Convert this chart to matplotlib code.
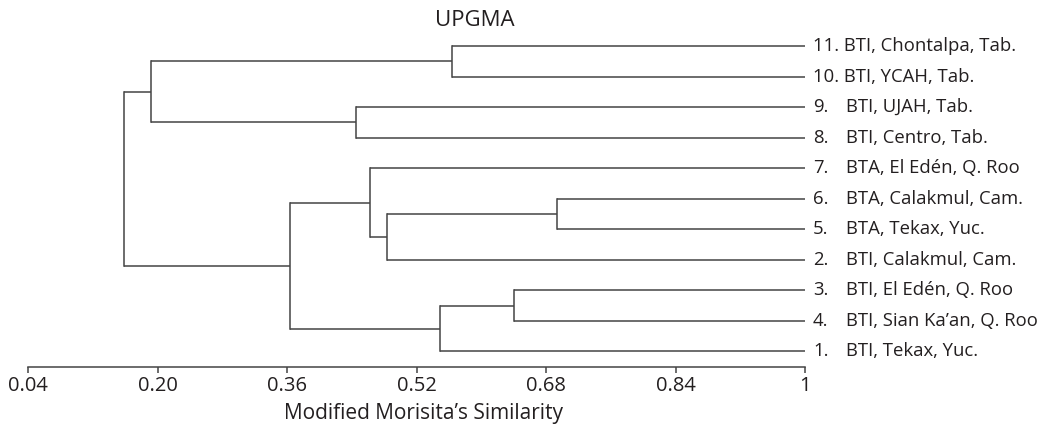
# UPGMA dendrogram, modified Morisita similarity

import matplotlib
matplotlib.use('Agg')
import matplotlib.pyplot as plt

# leaves from top to bottom
leaf_nums = ['11.', '10.', '9.', '8.', '7.', '6.', '5.', '2.', '3.', '4.', '1.']
leaf_names = ['BTI, Chontalpa, Tab.', 'BTI, YCAH, Tab.', 'BTI, UJAH, Tab.',
              'BTI, Centro, Tab.', 'BTA, El Edén, Q. Roo', 'BTA, Calakmul, Cam.',
              'BTA, Tekax, Yuc.', 'BTI, Calakmul, Cam.', 'BTI, El Edén, Q. Roo',
              'BTI, Sian Ka’an, Q. Roo', 'BTI, Tekax, Yuc.']

# merges: (child a, child b, similarity); new nodes numbered from 11 on
merge_a = [0, 2, 11, 5, 14, 4, 8, 17, 16, 13]
merge_b = [1, 3, 12, 6, 7, 15, 9, 10, 18, 19]
merge_sim = [0.564, 0.445, 0.192, 0.694, 0.484, 0.463, 0.641, 0.549, 0.364, 0.159]

ticks = [0.04, 0.20, 0.36, 0.52, 0.68, 0.84, 1.0]
tick_labels = ['0.04', '0.20', '0.36', '0.52', '0.68', '0.84', '1']

line_col = '#444444'
text_col = '#231f20'
plt.rcParams['font.family'] = ['Open Sans', 'DejaVu Sans']

W, H = 1038, 425
fig = plt.figure(figsize=(W / 100, H / 100), dpi=100)
ax = fig.add_axes([28 / W, (H - 366.7) / H, 777 / W, 335.9 / H])

n = len(leaf_nums)
xs = [1.0] * n
ys = [n - 1 - i for i in range(n)]
for a, b, s in zip(merge_a, merge_b, merge_sim):
    for c in (a, b):
        ax.plot([xs[c], s], [ys[c], ys[c]], color=line_col, lw=1.1,
                solid_capstyle='butt', clip_on=False)
    ax.plot([s, s], [ys[a], ys[b]], color=line_col, lw=1.1,
            solid_capstyle='projecting', clip_on=False)
    xs.append(s)
    ys.append((ys[a] + ys[b]) / 2)

fs = 13.3
for i in range(n):
    y = n - 1 - i
    if len(leaf_nums[i]) > 2:
        # two digits: number and name in one run
        ax.annotate(leaf_nums[i] + ' ' + leaf_names[i], xy=(1.0, y), xytext=(8, 0),
                    textcoords='offset pixels', ha='left', va='center',
                    fontsize=fs, color=text_col, annotation_clip=False)
    else:
        ax.annotate(leaf_nums[i], xy=(1.0, y), xytext=(8, 0), textcoords='offset pixels',
                    ha='left', va='center', fontsize=fs, color=text_col,
                    annotation_clip=False)
        ax.annotate(leaf_names[i], xy=(1.0, y), xytext=(41, 0), textcoords='offset pixels',
                    ha='left', va='center', fontsize=fs, color=text_col,
                    annotation_clip=False)

ax.set_xlim(0.04, 1.0)
ax.set_ylim(-0.5, n - 0.5)
for side in ['top', 'left', 'right']:
    ax.spines[side].set_visible(False)
ax.spines['bottom'].set_color(line_col)
ax.spines['bottom'].set_linewidth(1.1)
ax.set_yticks([])
ax.set_xticks(ticks)
ax.set_xticklabels(tick_labels)
ax.tick_params(axis='x', direction='out', length=4, width=1.1, color=line_col,
               pad=3, labelsize=14.5, labelcolor=text_col)

fig.text(423 / W, 1 - 413 / H, 'Modified Morisita’s Similarity', ha='center', va='center',
         fontsize=15, color=text_col)
fig.text(475 / W, 1 - 21 / H, 'UPGMA', ha='center', va='center',
         fontsize=16, color=text_col)

fig.savefig('out.png', dpi=100)
